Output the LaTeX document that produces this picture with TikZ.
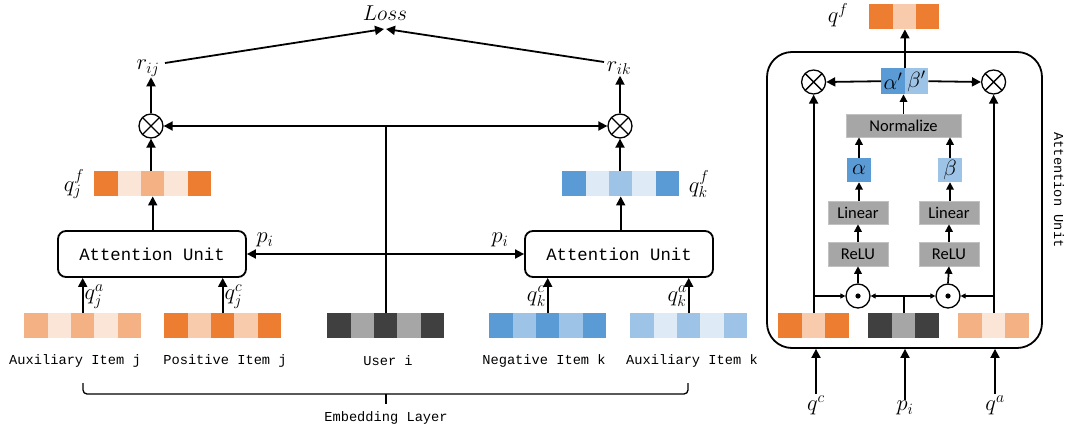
\RequirePackage{fix-cm}
\documentclass[tikz,border=0pt]{standalone}
\usepackage{fontspec}
\setmonofont{Liberation Mono}
\newfontfamily\calib{Carlito}
\usetikzlibrary{arrows.meta}
\definecolor{orD}{HTML}{ED7D31}
\definecolor{orM}{HTML}{F4B183}
\definecolor{orL}{HTML}{FBE5D6}
\definecolor{orP}{HTML}{F8CBAD}
\definecolor{blD}{HTML}{5B9BD5}
\definecolor{blM}{HTML}{9DC3E6}
\definecolor{blL}{HTML}{DEEBF7}
\definecolor{gD}{HTML}{404040}
\definecolor{gM}{HTML}{A6A6A6}
\newcommand\embvec[5]{% name, left x, top y, cell width, colours
  \foreach \c [count=\i] in {#5} {
    \node[cell, fill=\c, minimum width=#4pt, anchor=north west] (#1-\i) at ({#2+(\i-1)*#4},#3) {};
  }}
\begin{document}
\begin{tikzpicture}[x=1pt,y=-1pt,
  cell/.style={inner sep=0pt, minimum height=25pt, draw=none},
  arr/.style={line width=1.8pt, -{Triangle[width=9pt,length=9pt]}},
  parr/.style={line width=1.7pt, -{Triangle[width=7.5pt,length=7.5pt]}},
  sarr/.style={line width=1.4pt, -{Triangle[width=5pt,length=5pt]}},
  ln/.style={line width=1.8pt},
  mlab/.style={font=\fontsize{22.5}{26}\selectfont, inner sep=1pt},
  mono/.style={font=\fontsize{13.7}{16}\selectfont\ttfamily},
  aubox/.style={draw, line width=1.8pt, rounded corners=8pt, minimum width=188pt, minimum height=46pt, font=\fontsize{17.3}{20}\selectfont\ttfamily},
  otimes/.style={circle, draw, line width=1.3pt, minimum size=24pt, inner sep=0pt,
    path picture={\draw[line width=1.3pt] (path picture bounding box.north west) -- (path picture bounding box.south east)
      (path picture bounding box.north east) -- (path picture bounding box.south west);}},
  odot/.style={circle, draw, line width=1.3pt, minimum size=24pt, inner sep=0pt,
    path picture={\fill (path picture bounding box.center) circle (2.6pt);}},
  gbox/.style={fill=gM, draw=gM!70!white, line width=0.6pt, inner sep=0pt, minimum width=60pt, minimum height=23pt, font=\fontsize{16.5}{19}\selectfont\calib},
]
\useasboundingbox (0,0) rectangle (1068,431);

% ---------- left part ----------
\node[font=\fontsize{21.5}{25}\selectfont, inner sep=0pt] (loss) at (385,13) {$Loss$};
\coordinate (lossin) at (385,29);

% bottom embeddings
\embvec{auxj}{24}{313}{23.4}{orM,orL,orM,orL,orM}
\embvec{posj}{164}{313}{23.4}{orD,orP,orD,orP,orD}
\embvec{user}{327}{313}{23.4}{gD,gM,gD,gM,gD}
\embvec{negk}{489}{313}{23.4}{blD,blM,blD,blM,blD}
\embvec{auxk}{630}{313}{23.4}{blM,blL,blM,blL,blM}

\node[mono] (lauxj) at (75,361) {Auxiliary Item j};
\node[mono] (lposj) at (225,361) {Positive Item j};
\node[mono] (luser) at (388,361) {User i};
\node[mono] (lnegk) at (544,361) {Negative Item k};
\node[mono] (lauxk) at (692,361) {Auxiliary Item k};

% attention units
\node[aubox] (auL) at (152,254) {Attention Unit};
\node[aubox] (auR) at (619,254) {Attention Unit};

\draw[arr] (auxj-3.north) -- (auxj-3.north |- auL.south) node[mlab, midway, right, yshift=-1pt] {$q_j^a$};
\draw[arr] (posj-3.north) -- (posj-3.north |- auL.south) node[mlab, midway, right, yshift=-1pt] {$q_j^c$};
\draw[arr] (negk-3.north) -- (negk-3.north |- auR.south) node[mlab, midway, left, yshift=-1pt] {$q_k^c$};
\draw[arr] (auxk-3.north) -- (auxk-3.north |- auR.south) node[mlab, midway, left, yshift=-1pt] {$q_k^a$};

% fused vectors
\embvec{qjf}{94}{171}{23.4}{orD,orL,orM,orL,orD}
\embvec{qkf}{562}{171}{23.4}{blD,blL,blM,blL,blD}
\node[mlab] (lqjf) at (74,184) {$q_j^f$};
\node[mlab] (lqkf) at (699,184) {$q_k^f$};

\draw[arr] (auL.north -| qjf-3) -- (qjf-3.south);
\draw[arr] (auR.north -| qkf-3) -- (qkf-3.south);

\node[otimes] (oL) at (151,126) {};
\node[otimes] (oR) at (620,126) {};
\draw[arr] (qjf-3.north -| oL) -- (oL.south);
\draw[arr] (qkf-3.north -| oR) -- (oR.south);

\node[mlab] (rij) at (148,68) {$r_{ij}$};
\node[mlab] (rik) at (619,68) {$r_{ik}$};
\draw[arr] (oL.north) -- (oL.north |- rij.south);
\draw[arr] (oR.north) -- (oR.north |- rik.south);

\coordinate (rijout) at (165,63);
\coordinate (rikout) at (604,62);
\draw[arr] (rijout) -- ([xshift=-1pt]lossin);
\draw[arr] (rikout) -- ([xshift=1pt]lossin);

% user lines
\coordinate (uTop) at (user-3 |- oL);
\coordinate (uMid) at (user-3 |- auL);
\draw[ln] (user-3.north) -- (uTop);
\draw[arr] (uTop) -- (oL.east);
\draw[arr] (uTop) -- (oR.west);
\draw[arr] (uMid) -- (auL.east);
\draw[arr] (uMid) -- (auR.west);
\node[mlab] (piL) at (265,240) {$p_i$};
\node[mlab] (piR) at (500,240) {$p_i$};

% embedding layer brace
\draw[line width=1.3pt, rounded corners=4pt] (83,383) -- (83,394) -- (688,394) -- (688,383);
\draw[line width=1.3pt] (386,394) -- (386,404);
\node[mono] (emb) at (386,418) {Embedding Layer};

% ---------- right panel ----------
\node[draw, line width=1.8pt, rounded corners=25pt, minimum width=275pt, minimum height=296pt] (au) at (904.5,200) {};
\node[mono, rotate=-90] (aulab) at (1059,190) {Attention Unit};

\embvec{qf}{869}{4}{23.4}{orD,orP,orD}
\node[mlab] (lqf) at (838,15) {$q^f$};

\node[cell, fill=blD, minimum width=23.5pt, minimum height=26pt, anchor=north west, font=\fontsize{22}{26}\selectfont] (ab-1) at (881,68) {$\alpha'$};
\node[cell, fill=blM, minimum width=23.5pt, minimum height=26pt, anchor=north west, font=\fontsize{22}{26}\selectfont] (ab-2) at (904.5,68) {$\beta'$};
\draw[arr] (ab-1.north east) -- (ab-1.north east |- qf-2.south);

\embvec{qc}{778}{313}{23.6}{orD,orP,orD}
\embvec{pv}{868}{313}{23.6}{gD,gM,gD}
\embvec{qa}{958}{313}{23.6}{orM,orL,orM}

\node[otimes] (pL) at (qc-2 |- 0,82) {};
\node[otimes] (pR) at (qa-2 |- 0,82) {};
\draw[arr] (ab-1.west) -- (pL.east);
\draw[arr] (ab-2.east) -- (pR.west);

\node[gbox, minimum width=115pt] (norm) at (903.5,125.5) {Normalize};
\draw[parr] (norm.north) -- (norm.north |- ab-1.south);

\node[cell, fill=blD, minimum width=24pt, minimum height=24pt, font=\fontsize{22}{26}\selectfont] (alpha) at (859,170) {$\alpha$};
\node[cell, fill=blM, minimum width=24pt, minimum height=24pt, font=\fontsize{22}{26}\selectfont] (beta) at (950,170) {$\beta$};
\draw[parr] (alpha.north) -- (alpha.north |- norm.south);
\draw[parr] (beta.north) -- (beta.north |- norm.south);

\node[gbox] (linL) at (858,212.5) {Linear};
\node[gbox] (linR) at (949,212.5) {Linear};
\draw[parr] (linL.north -| alpha) -- (alpha.south);
\draw[parr] (linR.north -| beta) -- (beta.south);

\node[gbox, minimum height=24pt] (reL) at (858,254) {ReLU};
\node[gbox, minimum height=24pt] (reR) at (949,254) {ReLU};
\draw[parr] (reL.north) -- (linL.south);
\draw[parr] (reR.north) -- (linR.south);

\node[odot] (dL) at (858,296) {};
\node[odot] (dR) at (948,296) {};
\draw[parr] (dL.north) -- (reL.south);
\draw[parr] (dR.north) -- (reR.south);

\draw[arr] (qc-2.north) -- (pL.south);
\draw[arr] (qa-2.north) -- (pR.south);
\draw[sarr] (qc-2 |- dL) -- (dL.west);
\draw[sarr] (qa-2 |- dR) -- (dR.east);
\coordinate (pjoin) at (pv-2 |- dL);
\draw[ln] (pv-2.north) -- (pjoin);
\draw[sarr] (pjoin) -- (dL.east);
\draw[sarr] (pjoin) -- (dR.west);

\node[mlab] (lqc) at (816,405) {$q^c$};
\node[mlab] (lpi) at (905,408) {$p_i$};
\node[mlab] (lqa) at (995,405) {$q^a$};
\draw[arr] (lqc.north) -- (lqc.north |- au.south);
\draw[arr] (lpi.north) -- (lpi.north |- au.south);
\draw[arr] (lqa.north) -- (lqa.north |- au.south);
\end{tikzpicture}
\end{document}
